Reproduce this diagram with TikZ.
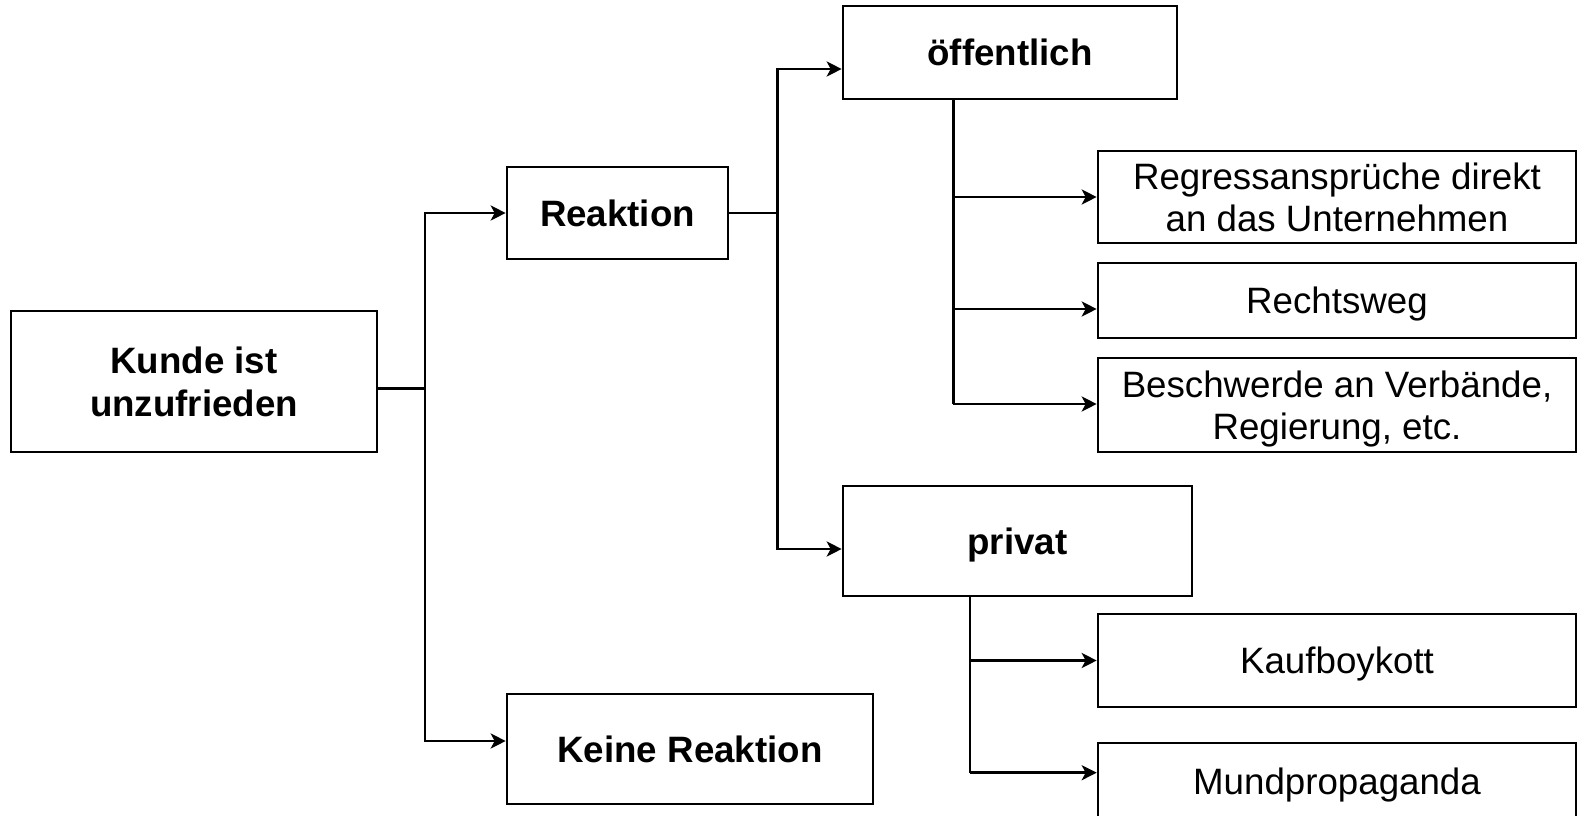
\documentclass[tikz,border=0pt]{standalone}
\usepackage{fontspec}
\setmainfont{Liberation Sans}
\usetikzlibrary{arrows.meta}
\begin{document}
\begin{tikzpicture}[x=1pt,y=-1pt,
  box/.style={draw, line width=2.6pt, rectangle, inner sep=0pt, align=center, text depth=0pt,
    font=\fontsize{36.7}{42.5}\selectfont},
  boldbox/.style={box, font=\fontsize{36.7}{42.5}\selectfont\bfseries},
  arr/.style={line width=2.6pt, -{Stealth[length=15pt,width=15pt,inset=4pt]}},
  ln/.style={line width=2.6pt}]
\useasboundingbox (0,0) rectangle (1577,816);
% main nodes
\node[boldbox, minimum width=366pt, minimum height=141pt] (kunde) at (194,381.5) {Kunde ist\\unzufrieden};
\node[boldbox, minimum width=221pt, minimum height=92pt] (reaktion) at (617.5,213) {Reaktion};
\node[boldbox, minimum width=366pt, minimum height=110pt] (keine) at (690,749) {Keine Reaktion};
\node[boldbox, minimum width=334pt, minimum height=93pt] (oeff) at (1010,52.5) {öffentlich};
\node[boldbox, minimum width=349pt, minimum height=110pt] (privat) at (1017.5,541) {privat};
% leaf nodes
\node[box, minimum width=478pt, minimum height=92pt] (regress) at (1337,197) {Regressansprüche direkt\\an das Unternehmen};
\node[box, minimum width=478pt, minimum height=75pt] (rechts) at (1337,300.5) {Rechtsweg};
\node[box, minimum width=478pt, minimum height=94pt] (beschw) at (1337,405) {Beschwerde an Verbände,\\Regierung, etc.};
\node[box, minimum width=478pt, minimum height=93pt] (kauf) at (1337,660.5) {Kaufboykott};
\node[box, minimum width=478pt, minimum height=76pt] (mund) at (1337,781) {Mundpropaganda};
% junctions
\coordinate (j1) at (425,388.5);
\coordinate (j2) at (777.7,213);
\coordinate (t1) at (953.3,404);
\coordinate (t2) at (970,772.7);
% connectors
\draw[ln] (kunde.east |- j1) -- (j1);
\draw[arr] (j1) |- (reaktion.west);
\draw[arr] (j1) |- (keine.west |- 0,741);
\draw[ln] (reaktion.east) -- (j2);
\draw[arr] (j2) |- (oeff.west |- 0,69);
\draw[arr] (j2) |- (privat.west |- 0,549);
\draw[ln] (oeff.south -| t1) -- (t1);
\draw[arr] (t1 |- regress.west) -- (regress.west);
\draw[arr] (t1 |- 0,309) -- (rechts.west |- 0,309);
\draw[arr] (t1) -- (beschw.west |- t1);
\draw[ln] (privat.south -| t2) -- (t2);
\draw[arr] (t2 |- kauf.west) -- (kauf.west);
\draw[arr] (t2) -- (mund.west |- t2);
\end{tikzpicture}
\end{document}
